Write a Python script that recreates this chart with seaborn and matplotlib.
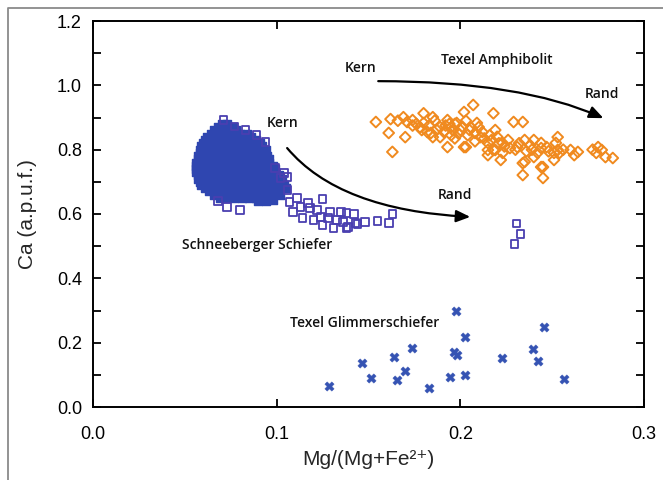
import matplotlib
matplotlib.use("Agg")
import matplotlib.pyplot as plt
import seaborn as sns
import pandas as pd
from matplotlib.lines import Line2D

# ---------------- data ----------------
# Schneeberger Schiefer: densely overplotted core (appears solid in the picture)
schneeberger_core = [
    (0.070, 0.88), (0.073, 0.88),
    (0.068, 0.87), (0.072, 0.87), (0.076, 0.87),
    (0.066, 0.86), (0.070, 0.86), (0.074, 0.86), (0.078, 0.86),
    (0.064, 0.85), (0.068, 0.85), (0.072, 0.85), (0.076, 0.85), (0.080, 0.85), (0.084, 0.85),
    (0.062, 0.84), (0.066, 0.84), (0.070, 0.84), (0.074, 0.84), (0.078, 0.84), (0.082, 0.84), (0.086, 0.84),
    (0.061, 0.83), (0.065, 0.83), (0.069, 0.83), (0.073, 0.83), (0.077, 0.83), (0.081, 0.83), (0.085, 0.83), (0.089, 0.83),
    (0.060, 0.82), (0.064, 0.82), (0.068, 0.82), (0.072, 0.82), (0.076, 0.82), (0.080, 0.82), (0.084, 0.82), (0.088, 0.82), (0.091, 0.82),
    (0.059, 0.81), (0.063, 0.81), (0.067, 0.81), (0.071, 0.81), (0.075, 0.81), (0.079, 0.81), (0.083, 0.81), (0.087, 0.81), (0.092, 0.81),
    (0.058, 0.80), (0.062, 0.80), (0.066, 0.80), (0.070, 0.80), (0.074, 0.80), (0.078, 0.80), (0.082, 0.80), (0.086, 0.80), (0.090, 0.80), (0.094, 0.80),
    (0.058, 0.79), (0.061, 0.79), (0.065, 0.79), (0.069, 0.79), (0.073, 0.79), (0.077, 0.79), (0.081, 0.79), (0.085, 0.79), (0.089, 0.79), (0.093, 0.79),
    (0.057, 0.78), (0.060, 0.78), (0.064, 0.78), (0.068, 0.78), (0.072, 0.78), (0.076, 0.78), (0.080, 0.78), (0.084, 0.78), (0.088, 0.78), (0.092, 0.78), (0.095, 0.78),
    (0.057, 0.77), (0.061, 0.77), (0.065, 0.77), (0.069, 0.77), (0.073, 0.77), (0.077, 0.77), (0.081, 0.77), (0.085, 0.77), (0.089, 0.77), (0.093, 0.77), (0.096, 0.77),
    (0.056, 0.76), (0.060, 0.76), (0.064, 0.76), (0.068, 0.76), (0.072, 0.76), (0.076, 0.76), (0.080, 0.76), (0.084, 0.76), (0.088, 0.76), (0.092, 0.76), (0.096, 0.76),
    (0.056, 0.75), (0.059, 0.75), (0.063, 0.75), (0.067, 0.75), (0.071, 0.75), (0.075, 0.75), (0.079, 0.75), (0.083, 0.75), (0.087, 0.75), (0.091, 0.75), (0.095, 0.75), (0.098, 0.75),
    (0.056, 0.74), (0.060, 0.74), (0.064, 0.74), (0.068, 0.74), (0.072, 0.74), (0.076, 0.74), (0.080, 0.74), (0.084, 0.74), (0.088, 0.74), (0.092, 0.74), (0.096, 0.74), (0.099, 0.74),
    (0.056, 0.73), (0.059, 0.73), (0.063, 0.73), (0.067, 0.73), (0.071, 0.73), (0.075, 0.73), (0.079, 0.73), (0.083, 0.73), (0.087, 0.73), (0.091, 0.73), (0.095, 0.73), (0.099, 0.73),
    (0.057, 0.72), (0.061, 0.72), (0.065, 0.72), (0.069, 0.72), (0.073, 0.72), (0.077, 0.72), (0.081, 0.72), (0.085, 0.72), (0.089, 0.72), (0.093, 0.72), (0.097, 0.72), (0.101, 0.72),
    (0.057, 0.71), (0.060, 0.71), (0.064, 0.71), (0.068, 0.71), (0.072, 0.71), (0.076, 0.71), (0.080, 0.71), (0.084, 0.71), (0.088, 0.71), (0.092, 0.71), (0.096, 0.71), (0.100, 0.71), (0.103, 0.71),
    (0.058, 0.70), (0.062, 0.70), (0.066, 0.70), (0.070, 0.70), (0.074, 0.70), (0.078, 0.70), (0.082, 0.70), (0.086, 0.70), (0.090, 0.70), (0.094, 0.70), (0.098, 0.70), (0.102, 0.70),
    (0.059, 0.69), (0.063, 0.69), (0.067, 0.69), (0.071, 0.69), (0.075, 0.69), (0.079, 0.69), (0.083, 0.69), (0.087, 0.69), (0.091, 0.69), (0.095, 0.69), (0.099, 0.69), (0.104, 0.69),
    (0.061, 0.68), (0.065, 0.68), (0.069, 0.68), (0.073, 0.68), (0.077, 0.68), (0.081, 0.68), (0.085, 0.68), (0.089, 0.68), (0.093, 0.68), (0.097, 0.68), (0.101, 0.68),
    (0.063, 0.67), (0.067, 0.67), (0.071, 0.67), (0.075, 0.67), (0.079, 0.67), (0.083, 0.67), (0.087, 0.67), (0.091, 0.67), (0.095, 0.67), (0.099, 0.67),
    (0.066, 0.66), (0.070, 0.66), (0.074, 0.66), (0.078, 0.66), (0.082, 0.66), (0.086, 0.66), (0.090, 0.66), (0.094, 0.66), (0.097, 0.66),
    (0.069, 0.65), (0.073, 0.65), (0.077, 0.65), (0.081, 0.65), (0.085, 0.65), (0.089, 0.65), (0.093, 0.65),
    (0.090, 0.64), (0.094, 0.64), (0.098, 0.645), (0.102, 0.66), (0.105, 0.68),
]

# Schneeberger Schiefer: individually visible analyses
schneeberger_open = [
    (0.071, 0.892), (0.077, 0.872), (0.083, 0.862), (0.089, 0.845), (0.094, 0.824),
    (0.099, 0.743), (0.102, 0.712), (0.073, 0.622), (0.080, 0.612), (0.068, 0.640),
    (0.104, 0.727), (0.106, 0.715), (0.106, 0.675), (0.107, 0.637), (0.109, 0.606),
    (0.111, 0.650), (0.113, 0.622), (0.114, 0.588), (0.117, 0.634), (0.118, 0.619),
    (0.120, 0.581), (0.122, 0.612), (0.124, 0.591), (0.125, 0.647), (0.125, 0.566),
    (0.128, 0.588), (0.129, 0.606), (0.131, 0.556), (0.133, 0.581), (0.135, 0.606),
    (0.136, 0.575), (0.138, 0.603), (0.138, 0.556), (0.139, 0.560), (0.142, 0.600),
    (0.143, 0.572), (0.144, 0.569), (0.148, 0.575), (0.155, 0.578), (0.161, 0.572),
    (0.163, 0.600),
    (0.2305, 0.571), (0.2327, 0.538), (0.2294, 0.506),
]

amphibolit_pts = [
    (0.154, 0.886), (0.161, 0.852), (0.163, 0.793), (0.162, 0.895), (0.166, 0.890),
    (0.169, 0.901), (0.170, 0.839), (0.171, 0.886), (0.174, 0.892), (0.174, 0.875),
    (0.178, 0.870), (0.180, 0.913), (0.179, 0.861), (0.180, 0.883), (0.182, 0.855),
    (0.185, 0.901), (0.184, 0.852), (0.185, 0.839), (0.189, 0.870), (0.189, 0.839),
    (0.193, 0.892), (0.195, 0.870), (0.193, 0.808), (0.195, 0.845), (0.197, 0.880),
    (0.198, 0.883), (0.200, 0.861), (0.202, 0.917), (0.202, 0.808), (0.203, 0.808),
    (0.205, 0.861), (0.207, 0.939), (0.209, 0.883), (0.211, 0.839), (0.215, 0.821),
    (0.215, 0.799), (0.218, 0.913), (0.219, 0.861), (0.215, 0.783), (0.222, 0.768),
    (0.223, 0.790), (0.226, 0.830), (0.229, 0.886), (0.234, 0.886), (0.231, 0.808),
    (0.235, 0.830), (0.238, 0.814), (0.234, 0.758), (0.234, 0.721), (0.244, 0.746),
    (0.245, 0.712), (0.240, 0.777), (0.244, 0.805), (0.247, 0.808), (0.253, 0.839),
    (0.253, 0.799), (0.251, 0.790), (0.260, 0.799), (0.262, 0.783), (0.264, 0.793),
    (0.275, 0.808), (0.277, 0.799), (0.279, 0.777), (0.283, 0.774), (0.223, 0.821),
    (0.219, 0.799), (0.240, 0.830), (0.244, 0.821), (0.252, 0.821), (0.254, 0.790),
    (0.251, 0.768), (0.235, 0.762), (0.245, 0.746), (0.218, 0.799),
    (0.176, 0.880), (0.183, 0.875), (0.187, 0.862), (0.191, 0.855), (0.194, 0.880),
    (0.196, 0.860), (0.199, 0.850), (0.201, 0.872), (0.204, 0.845), (0.206, 0.868),
    (0.208, 0.852), (0.210, 0.870), (0.212, 0.855), (0.213, 0.835), (0.216, 0.845),
    (0.217, 0.830), (0.220, 0.840), (0.221, 0.820), (0.224, 0.810), (0.227, 0.805),
    (0.230, 0.800), (0.232, 0.820), (0.236, 0.795), (0.239, 0.800), (0.242, 0.790),
    (0.248, 0.795), (0.256, 0.800), (0.272, 0.800), (0.274, 0.790), (0.186, 0.890),
    (0.192, 0.875), (0.203, 0.890), (0.197, 0.835), (0.208, 0.826),
]

glimmer_x = [0.1976, 0.2454, 0.2023, 0.1737, 0.1637, 0.1464, 0.1963, 0.1982, 0.2227, 0.2396,
             0.2424, 0.1700, 0.1655, 0.1513, 0.1286, 0.1827, 0.1945, 0.2023, 0.2563]
glimmer_y = [0.299, 0.249, 0.217, 0.182, 0.156, 0.136, 0.172, 0.162, 0.151, 0.180,
             0.144, 0.112, 0.084, 0.089, 0.065, 0.060, 0.092, 0.101, 0.086]

x_ticks = [0.0, 0.1, 0.2, 0.3]
y_ticks = [0.0, 0.2, 0.4, 0.6, 0.8, 1.0, 1.2]
y_minor = [0.1, 0.3, 0.5, 0.7, 0.9, 1.1]

df_core = pd.DataFrame(schneeberger_core, columns=["x", "y"])
df_open = pd.DataFrame(schneeberger_open, columns=["x", "y"])
df_a = pd.DataFrame(amphibolit_pts, columns=["x", "y"])
df_g = pd.DataFrame({"x": glimmer_x, "y": glimmer_y})

# ---------------- styling ----------------
sns.set_theme(style="ticks")
plt.rcParams['font.family'] = ['Liberation Sans', 'DejaVu Sans']

BLUE_CORE = "#2f46b0"
BLUE_SQ = "#4a3fb0"
BLUE_X = "#3553b3"
ORANGE = "#f08a1f"

fig = plt.figure(figsize=(6.63, 4.8), dpi=100)
ax = fig.add_axes([93/663, 73/480, 551/663, 386/480])

sns.scatterplot(data=df_core, x="x", y="y", marker="s", s=32, color=BLUE_CORE,
                edgecolor=BLUE_CORE, linewidth=1.0, ax=ax, zorder=3)
sns.scatterplot(data=df_open, x="x", y="y", marker="s", s=30, facecolor="none",
                edgecolor=BLUE_SQ, linewidth=1.3, ax=ax, zorder=3)
sns.scatterplot(data=df_a, x="x", y="y", marker="D", s=30, facecolor="none",
                edgecolor=ORANGE, linewidth=1.4, ax=ax, zorder=3)
sns.scatterplot(data=df_g, x="x", y="y", marker="X", s=45, color=BLUE_X,
                edgecolor=BLUE_X, linewidth=0.3, ax=ax, zorder=3)

ax.set_xlim(0, 0.3)
ax.set_ylim(0, 1.2)
ax.set_xticks(x_ticks)
ax.set_yticks(y_ticks)
ax.set_yticks(y_minor, minor=True)
ax.tick_params(which="both", direction="in", top=True, right=True,
               length=6, width=1.3, labelsize=13, colors="black")
ax.tick_params(axis="x", pad=14)
ax.tick_params(axis="y", pad=8)
for sp in ax.spines.values():
    sp.set_visible(True)
    sp.set_linewidth(1.4)
    sp.set_color("black")

ax.set_xlabel("Mg/(Mg+Fe²⁺)", fontsize=15, labelpad=5)
ax.set_ylabel("Ca (a.p.u.f.)", fontsize=15, labelpad=14)

tfont = dict(family=["Open Sans", "DejaVu Sans"], fontweight="semibold",
             fontsize=10, color="#111111", ha="center", va="center")
ax.text(0.1035, 0.883, "Kern", **tfont)
ax.text(0.197, 0.659, "Rand", **tfont)
ax.text(0.0894, 0.504, "Schneeberger Schiefer", **tfont)
ax.text(0.148, 0.261, "Texel Glimmerschiefer", **tfont)
ax.text(0.1455, 1.054, "Kern", **tfont)
ax.text(0.220, 1.079, "Texel Amphibolit", **tfont)
ax.text(0.277, 0.973, "Rand", **tfont)

ax.annotate("", xy=(0.2054, 0.591), xytext=(0.1057, 0.805),
            arrowprops=dict(arrowstyle="-|>,head_length=0.7,head_width=0.3",
                            color="black", lw=1.6,
                            connectionstyle="angle3,angleA=-50,angleB=-3",
                            shrinkA=0, shrinkB=0))
ax.annotate("", xy=(0.2779, 0.898), xytext=(0.1553, 1.013),
            arrowprops=dict(arrowstyle="-|>,head_length=0.7,head_width=0.3",
                            color="black", lw=1.6,
                            connectionstyle="angle3,angleA=0,angleB=-24",
                            shrinkA=0, shrinkB=0))

# thin grey frame of the original figure (left and top edges)
fig.add_artist(Line2D([8/663, 8/663, 1.0], [0.0, 472/480, 472/480],
                      transform=fig.transFigure, color="#8a8a8a", linewidth=1.3))

fig.savefig("out.png", dpi=100)
